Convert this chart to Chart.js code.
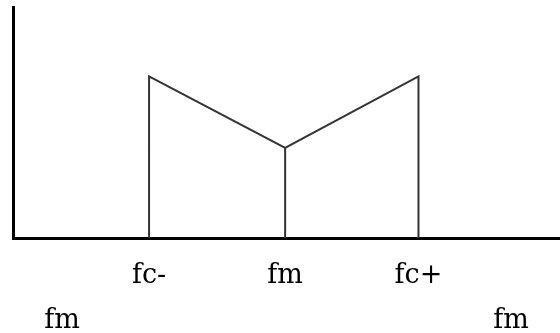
<!DOCTYPE html>
<html>
<head>
<meta charset="utf-8">
<script src="https://cdn.jsdelivr.net/npm/chart.js@4"></script>
<style>
  html, body { margin: 0; padding: 0; background: #fff; }
  #wrap { width: 560px; height: 333px; }
</style>
</head>
<body>
<div id="wrap"><canvas id="spectrum"></canvas></div>
<script>
// outline of the spectrum, in axis units
const xValues = [1, 1, 2, 2, 2, 2.98, 2.98];
const yValues = [0, 7, 3.9, 0, 3.9, 7, 0];

// labels under the axis
const tickPos = [1, 2, 2.98];
const tickLabels = ['fc-', 'fm', 'fc+'];
const lowPos = [0.36, 3.66];
const lowLabels = ['fm', 'fm'];

const points = xValues.map((x, i) => ({ x: x, y: yValues[i] }));
const font = { family: 'DejaVu Serif', size: 27 };

new Chart('spectrum', {
    type: 'line',
    data: {
        datasets: [{
            data: points,
            borderColor: '#333',
            borderWidth: 2,
            pointRadius: 0,
            tension: 0,
            fill: false
        }]
    },
    options: {
        responsive: true,
        maintainAspectRatio: false,
        animation: false,
        layout: { padding: { top: 7, left: 0, right: 0, bottom: 0 } },
        plugins: { legend: { display: false }, tooltip: { enabled: false } },
        scales: {
            x: {
                type: 'linear',
                min: 0,
                max: 4.02,
                grid: { display: false, drawTicks: false },
                border: { display: true, color: '#000', width: 3 },
                afterBuildTicks: s => { s.ticks = tickPos.map(v => ({ value: v })); },
                afterFit: s => { s.height = 45; },
                ticks: {
                    color: '#000',
                    font: font,
                    padding: 22,
                    maxRotation: 0,
                    autoSkip: false,
                    callback: (v, i) => tickLabels[i]
                }
            },
            x2: {
                type: 'linear',
                position: 'bottom',
                min: 0,
                max: 4.02,
                grid: { display: false, drawTicks: false },
                border: { display: false },
                afterBuildTicks: s => { s.ticks = lowPos.map(v => ({ value: v })); },
                afterFit: s => { s.height = 50; },
                ticks: {
                    color: '#000',
                    font: font,
                    padding: 22,
                    maxRotation: 0,
                    autoSkip: false,
                    callback: (v, i) => lowLabels[i]
                }
            },
            y: {
                min: 0,
                max: 10,
                grid: { display: false, drawTicks: false },
                border: { display: true, color: '#000', width: 3 },
                ticks: { display: false },
                afterFit: s => { s.width = 13; }
            }
        }
    }
});
</script>
</body>
</html>
